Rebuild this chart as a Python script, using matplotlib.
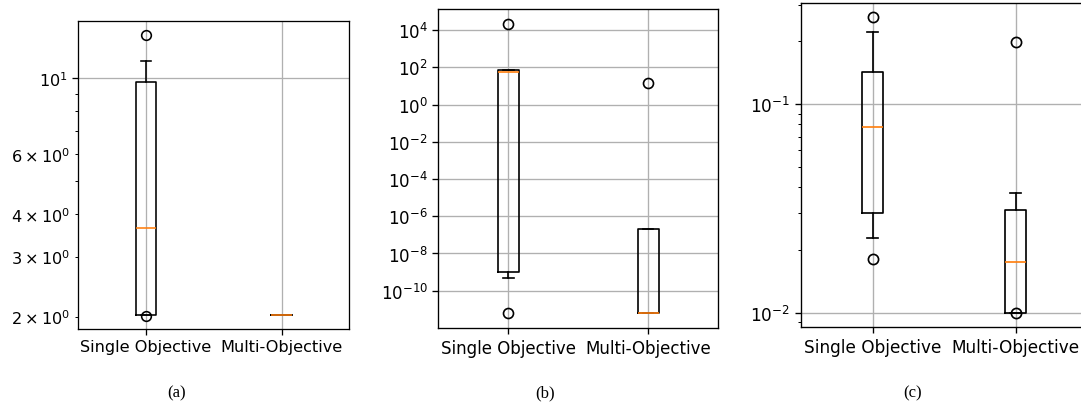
import matplotlib.pyplot as plt
import numpy as np
from matplotlib.ticker import NullLocator

labels = ['Single Objective', 'Multi-Objective']

# panel (a)
a_q1 = [2.02, 2.02]
a_med = [3.64, 2.02]
a_q3 = [9.75, 2.02]
a_lo = [2.02, 2.02]
a_hi = [11.26, 2.02]
a_fliers = [[13.4, 2.01], []]

# panel (b)
b_q1 = [1e-9, 6e-12]
b_med = [54, 6e-12]
b_q3 = [68, 2e-7]
b_lo = [5e-10, 6e-12]
b_hi = [68, 2e-7]
b_fliers = [[2.2e4, 6e-12], [15]]

# panel (c)
c_q1 = [0.0301, 0.0100]
c_med = [0.0776, 0.01747]
c_q3 = [0.1434, 0.0311]
c_lo = [0.0229, 0.0100]
c_hi = [0.2216, 0.0377]
c_fliers = [[0.261, 0.01815], [0.198, 0.0100]]


def stats(q1, med, q3, lo, hi, fl):
    out = []
    for i in range(len(labels)):
        out.append(dict(label=labels[i], q1=q1[i], med=med[i], q3=q3[i],
                         whislo=lo[i], whishi=hi[i], fliers=np.array(fl[i])))
    return out


def panel(rect, st, s):
    # s = scale of the sub-figure (each was pasted at a slightly different size)
    ax = fig.add_axes(rect)
    ax.bxp(st, showfliers=True,
           boxprops=dict(linewidth=s),
           whiskerprops=dict(linewidth=s),
           capprops=dict(linewidth=s),
           medianprops=dict(linewidth=s, color='C1'),
           flierprops=dict(marker='o', markersize=6 * s, markeredgewidth=s,
                           markerfacecolor='none', markeredgecolor='k'))
    ax.set_yscale('log')
    ax.grid(True, linewidth=0.8 * s)
    for sp in ax.spines.values():
        sp.set_linewidth(0.8 * s)
    ax.tick_params(which='both', labelsize=10 * s)
    ax.tick_params(which='major', width=0.8 * s, length=3.5 * s)
    ax.tick_params(which='minor', width=0.6 * s, length=2 * s)
    return ax


fig = plt.figure(figsize=(10.81, 4.06), dpi=100)

ax1 = panel([0.0723, 0.1872, 0.251, 0.7586],
            stats(a_q1, a_med, a_q3, a_lo, a_hi, a_fliers), 1.16)
ax1.set_ylim(1.84, 14.7)

ax2 = panel([0.4055, 0.1897, 0.2587, 0.7857],
            stats(b_q1, b_med, b_q3, b_lo, b_hi, b_fliers), 1.2)
ax2.set_ylim(1e-12, 10**5.13)
ax2.set_yticks([10.0**k for k in range(-10, 5, 2)])
ax2.yaxis.set_minor_locator(NullLocator())

ax3 = panel([0.741, 0.1914, 0.2646, 0.7988],
            stats(c_q1, c_med, c_q3, c_lo, c_hi, c_fliers), 1.22)
ax3.set_ylim(0.00851, 0.306)

for x, t in [(0.163, '(a)'), (0.504, '(b)'), (0.8446, '(c)')]:
    fig.text(x, 0.032, t, ha='center', va='center', fontsize=12,
             family='Liberation Serif')

fig.savefig('out.png', dpi=100)
